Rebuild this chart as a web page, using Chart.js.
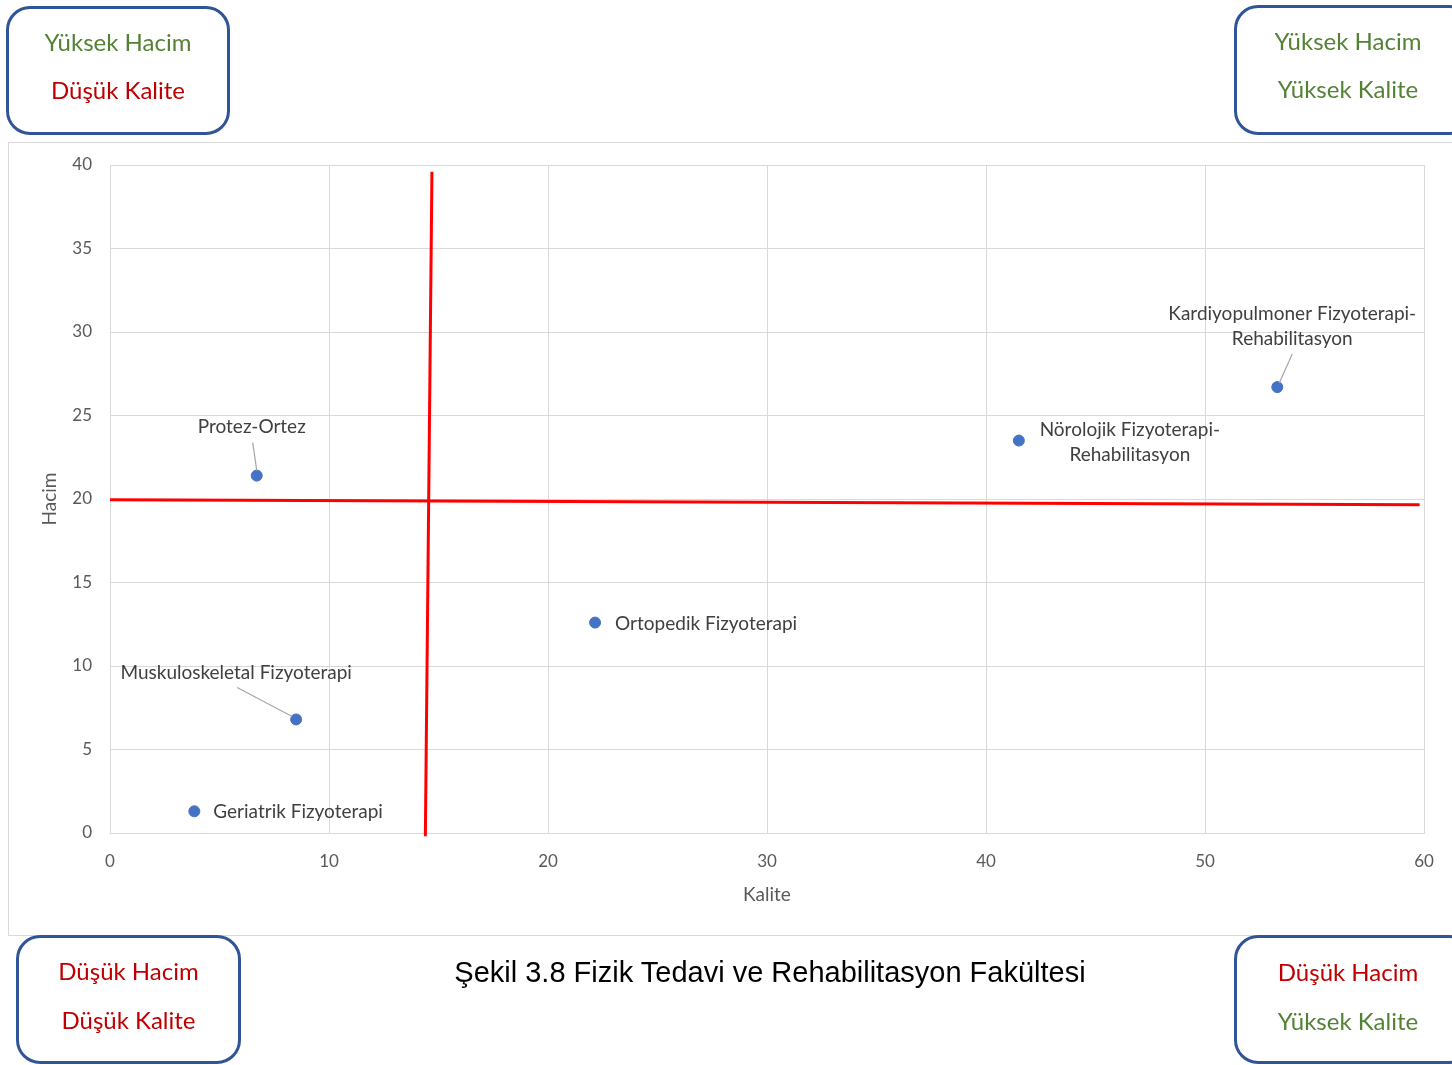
<!DOCTYPE html>
<html>
<head>
<meta charset="utf-8">
<script src="https://cdn.jsdelivr.net/npm/chart.js@4.4.0/dist/chart.umd.min.js"></script>
<style>
  body { margin: 0; background: #fff; width: 1452px; height: 1065px; overflow: hidden; position: relative; }
  #frame { position: absolute; left: 8px; top: 142px; width: 1444px; height: 792px; border: 1px solid #d9d9d9; border-right: none; }
  #wrap { position: absolute; left: 0; top: 0; width: 1452px; height: 1065px; }
  .box { position: absolute; border: 3px solid #2f5597; border-radius: 24px; background: #fff;
         font-family: Lato, "Open Sans", sans-serif; font-size: 24px; text-align: center; box-sizing: border-box; }
  .box div { position: absolute; left: 0; right: 0; }
  .g { color: #548235; }
  .r { color: #c00000; }
  #caption { position: absolute; left: 0; width: 1540px; top: 956px; text-align: center;
             font-family: "Liberation Sans", Arial, sans-serif; font-size: 29px; color: #000; }
</style>
</head>
<body>
<div id="frame"></div>
<div id="wrap"><canvas id="quadrant"></canvas></div>

<div class="box" style="left:6px; top:6px; width:224px; height:129px;">
  <div class="g" style="top:18px;">Yüksek Hacim</div>
  <div class="r" style="top:66px;">Düşük Kalite</div>
</div>
<div class="box" style="left:1234px; top:5px; width:240px; height:130px;">
  <div class="g" style="top:18px; width:222px;">Yüksek Hacim</div>
  <div class="g" style="top:66px; width:222px;">Yüksek Kalite</div>
</div>
<div class="box" style="left:16px; top:935px; width:225px; height:129px;">
  <div class="r" style="top:18px;">Düşük Hacim</div>
  <div class="r" style="top:67px;">Düşük Kalite</div>
</div>
<div class="box" style="left:1234px; top:935px; width:240px; height:129px;">
  <div class="r" style="top:19px; width:222px;">Düşük Hacim</div>
  <div class="g" style="top:68px; width:222px;">Yüksek Kalite</div>
</div>
<div id="caption">Şekil 3.8 Fizik Tedavi ve Rehabilitasyon Fakültesi</div>

<script>
// departments
var labels = [
    ["Protez-Ortez"],
    ["Muskuloskeletal Fizyoterapi"],
    ["Geriatrik Fizyoterapi"],
    ["Ortopedik Fizyoterapi"],
    ["Nörolojik Fizyoterapi-", "Rehabilitasyon"],
    ["Kardiyopulmoner Fizyoterapi-", "Rehabilitasyon"]
];
var kalite = [6.7, 8.5, 3.85, 22.15, 41.5, 53.3];
var hacim = [21.4, 6.8, 1.3, 12.6, 23.5, 26.7];

// red quadrant lines
var vLineX = [14.7, 14.4];
var vLineY = [39.6, -0.2];
var hLineX = [0, 59.8];
var hLineY = [19.95, 19.65];

var xTicks = [0, 10, 20, 30, 40, 50, 60];
var yTicks = [0, 5, 10, 15, 20, 25, 30, 35, 40];

// where each label sits relative to its point (px): dx, dy, align, leader line
var labelPlaces = [
    { dx: -5, dy: -49, align: 'center', leader: [-4, -33, 0, -5] },
    { dx: -60, dy: -47, align: 'center', leader: [-59, -32, -4, -3] },
    { dx: 19, dy: 1, align: 'left' },
    { dx: 20, dy: 1, align: 'left' },
    { dx: 111, dy: -11, align: 'center' },
    { dx: 15, dy: -73, align: 'center', leader: [15, -33, 2, -4] }
];

var points = kalite.map(function (k, i) { return { x: k, y: hacim[i] }; });

var pointLabels = {
    id: 'pointLabels',
    afterDatasetsDraw: function (chart) {
        var ctx = chart.ctx;
        var meta = chart.getDatasetMeta(0);
        ctx.save();
        ctx.font = '19px Lato, "Open Sans", sans-serif';
        ctx.fillStyle = '#404040';
        ctx.textBaseline = 'middle';
        meta.data.forEach(function (el, i) {
            var p = labelPlaces[i];
            if (p.leader) {
                ctx.strokeStyle = '#a6a6a6';
                ctx.lineWidth = 1.2;
                ctx.beginPath();
                ctx.moveTo(el.x + p.leader[0], el.y + p.leader[1]);
                ctx.lineTo(el.x + p.leader[2], el.y + p.leader[3]);
                ctx.stroke();
            }
            ctx.textAlign = p.align;
            labels[i].forEach(function (line, j) {
                ctx.fillText(line, el.x + p.dx, el.y + p.dy + j * 25);
            });
        });
        ctx.restore();
    }
};

var ctx = document.getElementById('quadrant').getContext('2d');
var chart = new Chart(ctx, {
    type: 'scatter',
    data: {
        datasets: [{
            label: 'Bölümler',
            data: points,
            backgroundColor: '#4472c4',
            borderColor: '#4472c4',
            pointRadius: 5.5,
            order: 0
        }, {
            label: 'dikey',
            data: vLineX.map(function (x, i) { return { x: x, y: vLineY[i] }; }),
            showLine: true,
            borderColor: '#ff0000',
            borderWidth: 3,
            pointRadius: 0,
            clip: false,
            order: 1
        }, {
            label: 'yatay',
            data: hLineX.map(function (x, i) { return { x: x, y: hLineY[i] }; }),
            showLine: true,
            borderColor: '#ff0000',
            borderWidth: 3,
            pointRadius: 0,
            clip: false,
            order: 1
        }]
    },
    options: {
        responsive: true,
        maintainAspectRatio: false,
        animation: false,
        layout: { padding: { top: 165, left: 38, right: 28, bottom: 152 } },
        plugins: { legend: { display: false }, tooltip: { enabled: false } },
        scales: {
            x: {
                type: 'linear',
                min: 0, max: 60,
                afterBuildTicks: function (s) { s.ticks = xTicks.map(function (v) { return { value: v }; }); },
                afterFit: function (s) { s.height = 80; },
                grid: { color: '#d9d9d9', drawTicks: false },
                border: { color: '#d9d9d9' },
                ticks: { color: '#595959', padding: 18, font: { family: 'Lato, "Open Sans", sans-serif', size: 17 } },
                title: { display: true, text: 'Kalite', color: '#595959', padding: { top: 2, bottom: 7 },
                         font: { family: 'Lato, "Open Sans", sans-serif', size: 19 } }
            },
            y: {
                type: 'linear',
                min: 0, max: 40,
                afterBuildTicks: function (s) { s.ticks = yTicks.map(function (v) { return { value: v }; }); },
                afterFit: function (s) { s.width = 72; },
                grid: { color: '#d9d9d9', drawTicks: false },
                border: { color: '#d9d9d9' },
                ticks: { color: '#595959', padding: 18, font: { family: 'Lato, "Open Sans", sans-serif', size: 17 } },
                title: { display: true, text: 'Hacim', color: '#595959', padding: { top: 0, bottom: 0 },
                         font: { family: 'Lato, "Open Sans", sans-serif', size: 19 } }
            }
        }
    },
    plugins: [pointLabels]
});
</script>
</body>
</html>
